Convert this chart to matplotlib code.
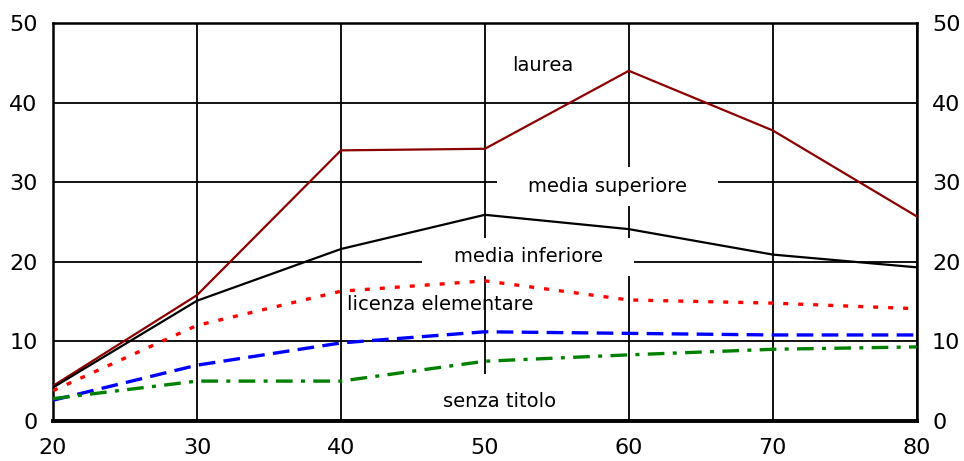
import matplotlib
matplotlib.use("Agg")
import matplotlib.pyplot as plt

# età
eta = [20, 30, 40, 50, 60, 70, 80]

laurea = [4.4, 15.8, 34.0, 34.2, 44.0, 36.5, 25.7]
media_superiore = [4.2, 15.1, 21.6, 25.9, 24.1, 20.9, 19.3]
media_inferiore = [3.8, 12.0, 16.3, 17.6, 15.2, 14.8, 14.1]
licenza_elementare = [2.6, 7.0, 9.8, 11.2, 11.0, 10.8, 10.8]
senza_titolo = [2.8, 5.0, 5.0, 7.5, 8.3, 9.0, 9.3]

x_ticks = [20, 30, 40, 50, 60, 70, 80]
y_ticks = [0, 10, 20, 30, 40, 50]

plt.rcParams["font.family"] = ["DejaVu Sans"]

fig = plt.figure(figsize=(9.64, 4.61), dpi=100)
ax = fig.add_axes([0.055, 0.087, 0.896, 0.863])

ax.plot(eta, laurea, color="#8b0000", lw=1.6, zorder=3)
ax.plot(eta, media_superiore, color="black", lw=1.6, zorder=3)
ax.plot(eta, media_inferiore, color="red", lw=2.4, ls=(0, (1.5, 3)), zorder=3)
ax.plot(eta, licenza_elementare, color="blue", lw=2.4, ls=(0, (5, 2.5)), zorder=3)
ax.plot(eta, senza_titolo, color="green", lw=2.4, ls=(0, (5, 2.5, 1.2, 2.5)), zorder=3)

fs = 14
wide_box = dict(boxstyle="square,pad=1.6", mutation_aspect=0.32,
                facecolor="white", edgecolor="none")
ax.text(54, 44.7, "laurea", ha="center", va="center", fontsize=fs, zorder=4)
ax.text(58.5, 29.5, "media superiore", ha="center", va="center", fontsize=fs,
        bbox=wide_box, zorder=2)
ax.text(53.0, 20.6, "media inferiore", ha="center", va="center", fontsize=fs,
        bbox=wide_box, zorder=2)
ax.text(46.9, 14.6, "licenza elementare", ha="center", va="center", fontsize=fs, zorder=4)
ax.text(51.0, 2.5, "senza titolo", ha="center", va="center", fontsize=fs,
        bbox=dict(boxstyle="square,pad=0.9", facecolor="white", edgecolor="none"),
        zorder=2)

ax.set_xlim(20, 80)
ax.set_ylim(0, 50)
ax.set_xticks(x_ticks)
ax.set_yticks(y_ticks)
ax.grid(True, color="black", lw=1.3, zorder=1)
ax.set_axisbelow(True)
ax.tick_params(length=0, labelsize=16, pad=11, right=True, labelright=True)
ax.tick_params(axis="x", pad=12)
for s in ax.spines.values():
    s.set_linewidth(1.8)
ax.spines["bottom"].set_linewidth(2.8)

fig.savefig("out.png", dpi=100)
